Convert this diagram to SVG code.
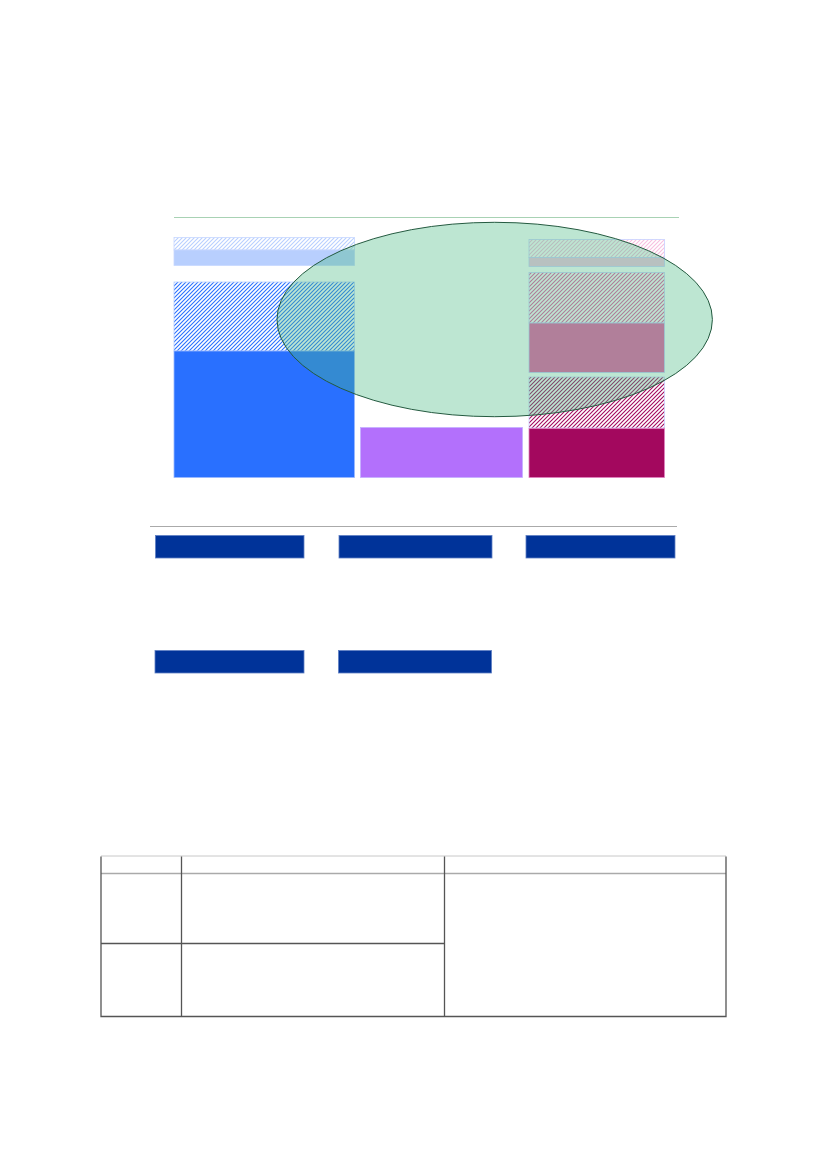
<svg xmlns="http://www.w3.org/2000/svg" width="827" height="1169" viewBox="0 0 827 1169">
<style>
.sep{stroke-width:1;fill:none}
.btn{fill:#003399;stroke:#5f7fc4;stroke-width:0.8}
.tbl{stroke:#555;stroke-width:1.3;fill:none}
</style>
<defs>
<pattern id="hLightBlue" patternUnits="userSpaceOnUse" width="4" height="4">
<path d="M-1,1 l2,-2 M0,4 l4,-4 M3,5 l2,-2" stroke="#b8cfff" stroke-width="1.1"/>
</pattern>
<pattern id="hBlue" patternUnits="userSpaceOnUse" width="4" height="4">
<path d="M-1,1 l2,-2 M0,4 l4,-4 M3,5 l2,-2" stroke="#2970ff" stroke-width="1.1"/>
</pattern>
<pattern id="hLightPink" patternUnits="userSpaceOnUse" width="4" height="4">
<path d="M-1,1 l2,-2 M0,4 l4,-4 M3,5 l2,-2" stroke="#f7bfe0" stroke-width="1.1"/>
</pattern>
<pattern id="hPink" patternUnits="userSpaceOnUse" width="4" height="4">
<path d="M-1,1 l2,-2 M0,4 l4,-4 M3,5 l2,-2" stroke="#e85aa6" stroke-width="1.1"/>
</pattern>
<pattern id="hMagenta" patternUnits="userSpaceOnUse" width="4" height="4">
<path d="M-1,1 l2,-2 M0,4 l4,-4 M3,5 l2,-2" stroke="#a3085e" stroke-width="1.1"/>
</pattern>
</defs>
<rect width="827" height="1169" fill="#fff"/>

<line class="sep" x1="174" y1="217.5" x2="679" y2="217.5" stroke="#a8d2b4"/>

<g id="col-left">
<rect x="174" y="237.5" width="180.5" height="12.5" fill="url(#hLightBlue)" stroke="#c8d8ff" stroke-width="0.8"/>
<rect x="174" y="250" width="180.5" height="15.5" fill="#b8cffe" stroke="#c8d8ff" stroke-width="0.8"/>
<rect x="174" y="282" width="180.5" height="69" fill="url(#hBlue)" stroke="#b8cfff" stroke-width="0.8"/>
<rect x="174" y="351" width="180.5" height="126.5" fill="#2970ff" stroke="#9ab8ff" stroke-width="0.8"/>
</g>

<g id="col-middle">
<rect x="360.5" y="427.5" width="162" height="50" fill="#b370fc" stroke="#c4b0ff" stroke-width="0.8"/>
</g>

<g id="col-right">
<rect x="529" y="239.5" width="135.5" height="18" fill="url(#hLightPink)" stroke="#c8d0ff" stroke-width="0.8"/>
<rect x="529" y="257.5" width="135.5" height="9" fill="#f8c5e3" stroke="#c8d0ff" stroke-width="0.8"/>
<rect x="529" y="272.5" width="135.5" height="50.5" fill="url(#hPink)" stroke="#c8d0ff" stroke-width="0.8"/>
<rect x="529" y="323" width="135.5" height="49.5" fill="#ec5ea8" stroke="#c8d0ff" stroke-width="0.8"/>
<rect x="529" y="377" width="135.5" height="51" fill="url(#hMagenta)" stroke="#c8d0ff" stroke-width="0.8"/>
<rect x="529" y="428.5" width="135.5" height="49" fill="#a3085e" stroke="#e080c0" stroke-width="0.8"/>
</g>

<g id="ellipse">
<ellipse cx="494.7" cy="319.5" rx="217.7" ry="97.2" fill="#48ba82" fill-opacity="0.36" stroke="#245a40" stroke-width="1"/>
</g>

<line class="sep" x1="150" y1="526.5" x2="677" y2="526.5" stroke="#aaaaaa"/>

<g id="btn1"><rect class="btn" x="155.5" y="535.5" width="148.5" height="22.5"/></g>
<g id="btn2"><rect class="btn" x="339" y="535.5" width="153" height="22.5"/></g>
<g id="btn3"><rect class="btn" x="526" y="535.5" width="149" height="22.5"/></g>
<g id="btn4"><rect class="btn" x="155" y="650.5" width="149" height="22.5"/></g>
<g id="btn5"><rect class="btn" x="338.5" y="650.5" width="153" height="22.5"/></g>

<g id="table">
<line x1="101" y1="856" x2="726" y2="856" stroke="#c8c8c8" stroke-width="1"/>
<line x1="101" y1="873.5" x2="726" y2="873.5" stroke="#aaaaaa" stroke-width="1.5"/>
<path class="tbl" d="M101,856.5 V1016.5 H726 V856.5"/>
<line class="tbl" x1="181.5" y1="856.5" x2="181.5" y2="1016.5"/>
<line class="tbl" x1="444.5" y1="856.5" x2="444.5" y2="1016.5"/>
<line class="tbl" x1="101" y1="943.5" x2="444.5" y2="943.5"/>
</g>
</svg>
